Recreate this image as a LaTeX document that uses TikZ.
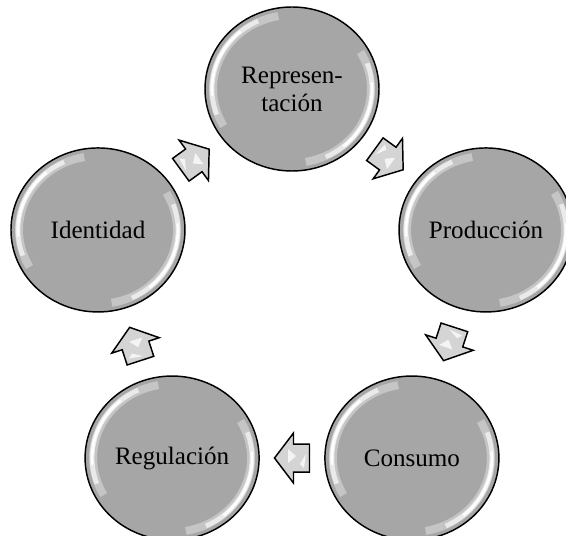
\documentclass[tikz,border=0pt]{standalone}
\usepackage{fontspec}
\setmainfont{Liberation Serif}
\usetikzlibrary{shapes.geometric,calc}
\definecolor{ballgray}{RGB}{166,166,166}
\definecolor{arrowgray}{RGB}{212,212,212}
\tikzset{
  ball/.style={ellipse,draw=black,fill=ballgray,inner sep=0pt,minimum width=130.5pt,minimum height=123pt,
    align=center,font=\fontsize{18.8}{21}\selectfont},
  flow/.style={draw=black,fill=arrowgray,line join=miter},
  glint/.style={fill=white,opacity=.75}
}
\newcommand{\gloss}[1]{
  \draw[white,line width=6pt,opacity=.35] (#1.center) ++(100:79 and 74) arc[start angle=100,end angle=210,x radius=79,y radius=74];
  \draw[white,line width=3.5pt,opacity=.65] (#1.center) ++(115:80 and 75) arc[start angle=115,end angle=200,x radius=80,y radius=75];
  \draw[white,line width=2pt,opacity=.95] (#1.center) ++(130:80 and 75) arc[start angle=130,end angle=185,x radius=80,y radius=75];
  \draw[white,line width=6pt,opacity=.35] (#1.center) ++(280:79 and 74) arc[start angle=280,end angle=390,x radius=79,y radius=74];
  \draw[white,line width=3.5pt,opacity=.65] (#1.center) ++(295:80 and 75) arc[start angle=295,end angle=380,x radius=80,y radius=75];
  \draw[white,line width=2pt,opacity=.95] (#1.center) ++(310:80 and 75) arc[start angle=310,end angle=365,x radius=80,y radius=75];
}
\newcommand{\flowarrow}[2]{
  \begin{scope}[shift={(#1)},rotate=#2]
  \draw[flow] (17.5,0) -- (-1.5,25) -- (-1.5,14) -- (-17.5,14) -- (-17.5,-14) -- (-1.5,-14) -- (-1.5,-25) -- cycle;
  \fill[glint] (-4,-2) -- (4,-9) -- (4,5) -- cycle;
  \fill[glint] (-12,10) -- (-14,-4) -- (-8,6) -- cycle;
  \end{scope}
}

\begin{document}
\begin{tikzpicture}[x=0.75pt,y=0.75pt,every path/.append style={line width=1.1pt}]
\useasboundingbox (0,0) rectangle (566,535);
\coordinate (O) at (292,242);
\node(rep) [ball] at ($(O)+(90:204)$) {Represen-\\tación};
\node(prod) [ball] at ($(O)+(18:204)$) {Producción};
\node(cons) [ball] at ($(O)+(-54:204)$) {Consumo};
\node(reg) [ball] at ($(O)+(-126:204)$) {Regulación};
\node(iden) [ball] at ($(O)+(162:204)$) {Identidad};
\foreach \b in {rep,prod,cons,reg,iden} {\gloss{\b}}
\coordinate (a1) at ($(rep)!.5!(prod)$);
\coordinate (a2) at ($(prod)!.5!(cons)$);
\coordinate (a3) at ($(cons)!.5!(reg)$);
\coordinate (a4) at ($(reg)!.5!(iden)$);
\coordinate (a5) at ($(iden)!.5!(rep)$);
\flowarrow{a1}{-36}
\flowarrow{a2}{-108}
\flowarrow{a3}{180}
\flowarrow{a4}{108}
\flowarrow{a5}{36}
\end{tikzpicture}
\end{document}
